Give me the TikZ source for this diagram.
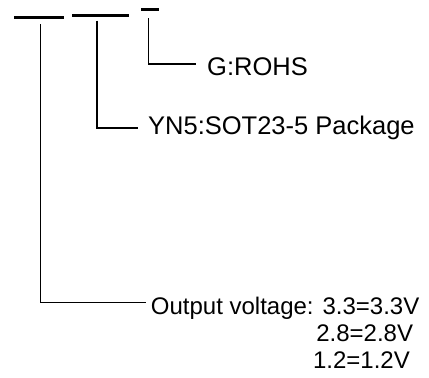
\documentclass[tikz,border=0pt]{standalone}
\usepackage{fontspec}
\setmainfont{Liberation Sans}
\begin{document}
\begin{tikzpicture}[x=1pt,y=-1pt,
  bar/.style={line width=2.7pt},
  conn/.style={line width=1.4pt},
  lbl/.style={inner sep=0pt,anchor=base west,font=\fontsize{25.5}{30}\selectfont},
  lblb/.style={inner sep=0pt,font=\fontsize{24}{28}\selectfont}]
\useasboundingbox (0,0) rectangle (429,378);
% code bars
\draw[bar] (14,17.3) coordinate (b1l) -- (64,17.3) coordinate (b1r);
\draw[bar] (72,15.3) coordinate (b2l) -- (129,15.3) coordinate (b2r);
\draw[bar] (141,9.3) coordinate (b3l) -- (159,9.3) coordinate (b3r);
% start points of leaders
\coordinate (t1) at (40.7,24);
\coordinate (t2) at (97,20.7);
\coordinate (t3) at (148.3,18.3);
% end points of leaders
\coordinate (e1) at (146,302.3);
\coordinate (e2) at (138,128);
\coordinate (e3) at (196,64);
% labels
\node[lbl] (g) at (207,75) {G:ROHS};
\node[lbl] (yn) at (148,134.3) {YN5:SOT23-5 Package};
\node[lblb,anchor=base west] (out) at (150.7,314) {Output voltage: 3.3=3.3V};
\node[lblb,anchor=base east] (v28) at (413.3,341.7) {2.8=2.8V};
\node[lblb,anchor=base east] (v12) at (410,368.3) {1.2=1.2V};
% leaders
\draw[conn] (t1) |- (e1);
\draw[conn] (t2) |- (e2);
\draw[conn] (t3) |- (e3);
\end{tikzpicture}
\end{document}
